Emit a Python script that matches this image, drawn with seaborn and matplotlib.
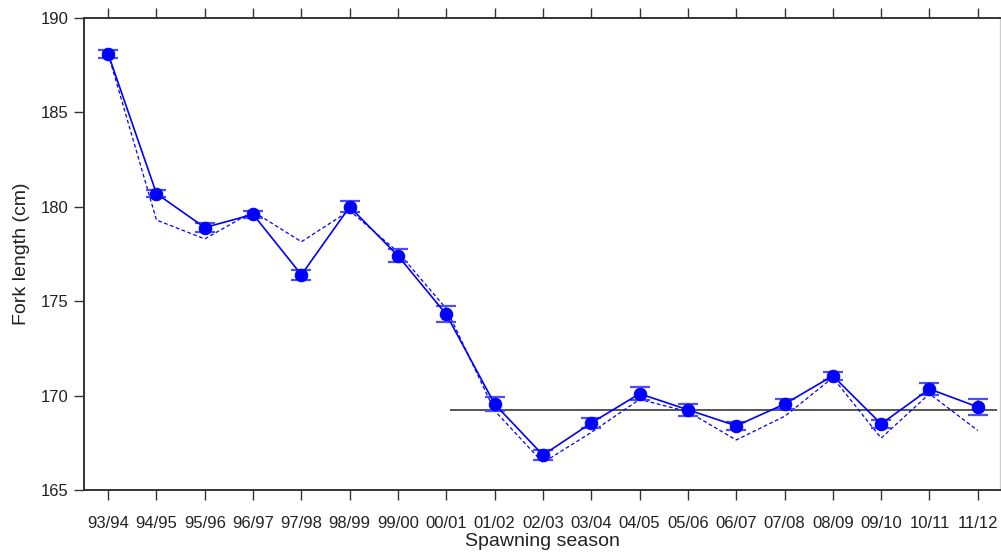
import matplotlib
matplotlib.use("Agg")
import matplotlib.pyplot as plt
import seaborn as sns
import pandas as pd
import numpy as np

# Data
seasons = ["93/94", "94/95", "95/96", "96/97", "97/98", "98/99", "99/00", "00/01",
           "01/02", "02/03", "03/04", "04/05", "05/06", "06/07", "07/08", "08/09",
           "09/10", "10/11", "11/12"]
mean_length = [188.1, 180.7, 178.9, 179.6, 176.4, 180.0, 177.4, 174.3,
               169.55, 166.85, 168.55, 170.1, 169.25, 168.4, 169.55, 171.05,
               168.5, 170.35, 169.4]
err_length = [0.22, 0.2, 0.22, 0.2, 0.27, 0.3, 0.35, 0.42,
              0.38, 0.25, 0.25, 0.35, 0.32, 0.2, 0.25, 0.22,
              0.2, 0.3, 0.42]
dashed_length = [188.1, 179.3, 178.3, 179.75, 178.15, 179.8, 177.6, 174.6,
                 169.2, 166.45, 168.05, 169.8, 169.15, 167.65, 168.9, 170.95,
                 167.75, 170.1, 168.15]
reference_level = 169.25
reference_start = 7.08

df = pd.DataFrame({"season": seasons, "x": np.arange(len(seasons)),
                   "mean": mean_length, "err": err_length, "dashed": dashed_length})

sns.set_style("white")
plt.rcParams['font.family'] = ['Liberation Sans', 'DejaVu Sans']

fig = plt.figure(figsize=(10.01, 5.53), dpi=100)
ax = fig.add_axes([84 / 1001, 1 - 490 / 553, (1000 - 84) / 1001, (490 - 18) / 553])

blue = "#0000ff"

# reference level line
ax.hlines(reference_level, reference_start, len(seasons) - 0.6, color="#555555", lw=1.4, zorder=1)

# dashed series
sns.lineplot(data=df, x="x", y="dashed", ax=ax, color=blue, lw=0.9,
             linestyle=(0, (3, 2)), zorder=2)

# error bars under the markers
ax.errorbar(df["x"], df["mean"], yerr=df["err"], fmt="none", ecolor="#4d4dff",
            elinewidth=1.2, capsize=7, capthick=1.6, zorder=3)

# solid series with markers
sns.lineplot(data=df, x="x", y="mean", ax=ax, color=blue, lw=1.2,
             marker="o", markersize=9, markeredgecolor=blue, zorder=4)

ax.set_xlim(-0.5, 18.46)
ax.set_ylim(165, 190)
ax.set_yticks([165, 170, 175, 180, 185, 190])
ax.set_xticks(df["x"])
ax.set_xticklabels(seasons)

ax.tick_params(axis="x", which="both", direction="out", length=7, width=1,
               colors="#333333", labelcolor="#222222", labelsize=12,
               top=True, bottom=True, pad=12)
ax.tick_params(axis="y", direction="out", length=7, width=1, colors="#333333",
               labelcolor="#222222", labelsize=12, left=True, right=False, pad=4)

for side in ["left", "top", "bottom"]:
    ax.spines[side].set_color("#333333")
    ax.spines[side].set_linewidth(1.4)
ax.spines["right"].set_color("#cccccc")
ax.spines["right"].set_linewidth(1.0)

ax.set_xlabel("Spawning season", fontsize=14, color="#222222", labelpad=1)
ax.set_ylabel("Fork length (cm)", fontsize=14, color="#222222", labelpad=8)

fig.savefig("out.png", dpi=100)
